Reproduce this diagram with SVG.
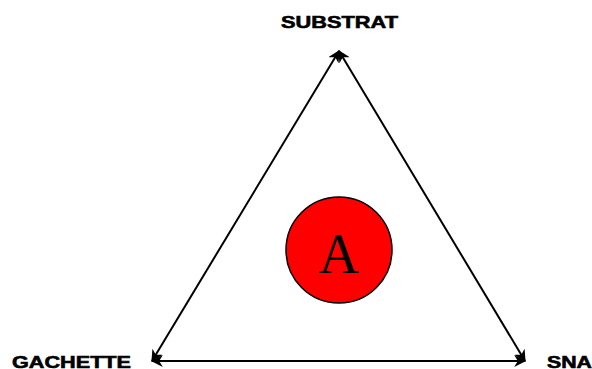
<svg xmlns="http://www.w3.org/2000/svg" width="592" height="369" viewBox="0 0 592 369">
<style>
.lbl{font-family:"Liberation Sans",Arial,sans-serif;font-weight:bold;font-size:17px;fill:#000;stroke:#000;stroke-width:0.6}
.edge{stroke:#000;stroke-width:2;fill:none;marker-start:url(#ah);marker-end:url(#ah)}
</style>
<defs>
<marker id="ah" viewBox="0 0 10 10" refX="9" refY="5" markerWidth="6" markerHeight="6" orient="auto-start-reverse" markerUnits="strokeWidth">
<path d="M0,0 L10,5 L0,10 L3,5 z" fill="#000"/>
</marker>
</defs>
<rect width="592" height="369" fill="#fff"/>
<g id="connectors">
<line class="edge" x1="152" y1="361" x2="339" y2="51"/>
<line class="edge" x1="339" y1="51" x2="525" y2="361"/>
<line class="edge" x1="525" y1="361" x2="152" y2="361"/>
</g>
<g id="substrat"><text class="lbl" x="281" y="28" textLength="117" lengthAdjust="spacingAndGlyphs">SUBSTRAT</text></g>
<g id="gachette"><text class="lbl" x="12" y="368" textLength="119" lengthAdjust="spacingAndGlyphs">GACHETTE</text></g>
<g id="sna"><text class="lbl" x="547" y="368" textLength="45" lengthAdjust="spacingAndGlyphs">SNA</text></g>
<g id="a"><circle cx="339" cy="250" r="53" fill="#ff0000" stroke="#000" stroke-width="1.5"/>
<text x="339" y="273" text-anchor="middle" font-family="'Liberation Serif','Times New Roman',serif" font-size="56" fill="#000">A</text></g>
</svg>
